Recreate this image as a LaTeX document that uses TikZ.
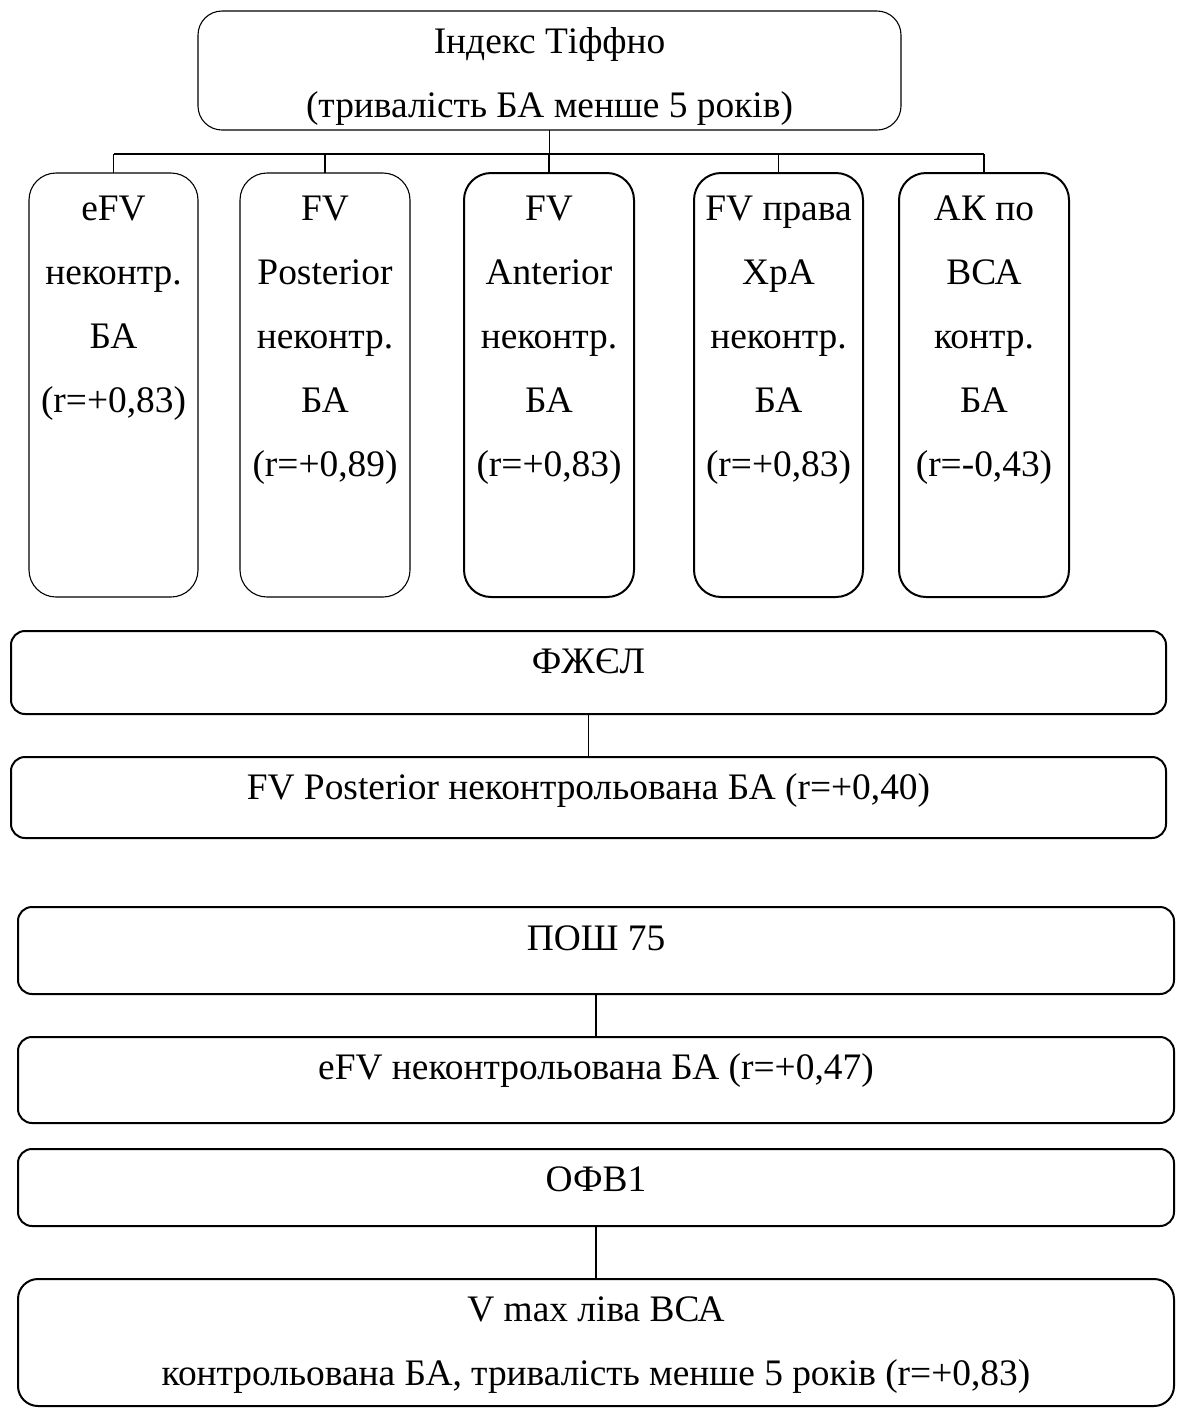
\documentclass[tikz,border=0pt]{standalone}
\usepackage{fontspec}
\setmainfont{Liberation Serif}
\usetikzlibrary{fit}
\begin{document}
\begin{tikzpicture}[x=0.5pt,y=-0.5pt,
  boxthin/.style={draw, line width=0.55pt, rounded corners=13.5pt, inner sep=0pt, outer sep=0pt},
  boxthick/.style={draw, line width=1pt, rounded corners=13.5pt, inner sep=0pt, outer sep=0pt},
  widebox/.style={draw, line width=1pt, rounded corners=7pt, inner sep=0pt, outer sep=0pt},
  txt/.style={inner sep=0pt, outer sep=0pt, align=center, anchor=north, font=\fontsize{18.7}{32}\selectfont},
  conn/.style={draw, line width=0.55pt}
]
\useasboundingbox (0,0) rectangle (1184,1409);

% top box
\node[boxthin, rounded corners=12pt, fit={(198,11) (901,130)}] (top) {};
\node[txt] (toptxt) at ([yshift=1.2pt]top.north) {\strut Індекс Тіффно\\\strut (тривалість БА менше 5 років)};

% child boxes
\node[boxthin, fit={(29,173) (198,597)}] (c1) {};
\node[boxthin, fit={(240,173) (410,597)}] (c2) {};
\node[boxthick, fit={(464,173) (634,597)}] (c3) {};
\node[boxthick, fit={(694,173) (863,597)}] (c4) {};
\node[boxthick, fit={(899,173) (1069,597)}] (c5) {};

\node[txt] (c1t) at ([yshift=-1.1pt]c1.north) {\strut eFV\\\strut неконтр.\\\strut БА\\\strut (r=+0,83)};
\node[txt] (c2t) at ([yshift=-1.1pt]c2.north) {\strut FV\\\strut Posterior\\\strut неконтр.\\\strut БА\\\strut (r=+0,89)};
\node[txt] (c3t) at ([yshift=-1.1pt]c3.north) {\strut FV\\\strut Anterior\\\strut неконтр.\\\strut БА\\\strut (r=+0,83)};
\node[txt] (c4t) at ([yshift=-1.1pt]c4.north) {\strut FV права\\\strut ХрА\\\strut неконтр.\\\strut БА\\\strut (r=+0,83)};
\node[txt] (c5t) at ([yshift=-1.1pt]c5.north) {\strut АК по\\\strut ВСА\\\strut контр.\\\strut БА\\\strut (r=-0,43)};

% tree connectors
\coordinate (bus) at (550,154);
\draw[conn, line width=0.8pt] (top.south) -- (top.south |- bus);
\draw[conn] (c1.north |- bus) -- (c5.north |- bus);
\foreach \c in {c1,c2,c3,c4,c5} { \draw[conn] (\c.north) -- (\c.north |- bus); }

% wide boxes
\node[widebox, fit={(11,631) (1166,714)}] (fzhel) {};
\node[txt] (fzhelt) at ([yshift=1pt]fzhel.north) {\strut ФЖЄЛ};
\node[widebox, fit={(11,757) (1166,838)}] (fvp) {};
\node[txt] (fvpt) at ([yshift=1pt]fvp.north) {\strut FV Posterior неконтрольована БА (r=+0,40)};
\draw[conn] (fzhel.south) -- (fvp.north);

\node[widebox, fit={(18,907) (1174,994)}] (posh) {};
\node[txt] (posht) at ([yshift=0.8pt]posh.north) {\strut ПОШ 75};
\node[widebox, fit={(18,1037) (1174,1123)}] (efv) {};
\node[txt] (efvt) at ([yshift=1.2pt]efv.north) {\strut eFV неконтрольована БА (r=+0,47)};
\draw[conn] (posh.south) -- (efv.north);

\node[widebox, fit={(18,1149) (1174,1226)}] (ofv) {};
\node[txt] (ofvt) at ([yshift=1.2pt]ofv.north) {\strut ОФВ1};
\node[widebox, rounded corners=10pt, fit={(18,1279) (1174,1406)}] (vmax) {};
\node[txt] (vmaxt) at ([yshift=1pt]vmax.north) {\strut V max ліва ВСА\\\strut контрольована БА, тривалість менше 5 років (r=+0,83)};
\draw[conn] (ofv.south) -- (vmax.north);
\end{tikzpicture}
\end{document}
